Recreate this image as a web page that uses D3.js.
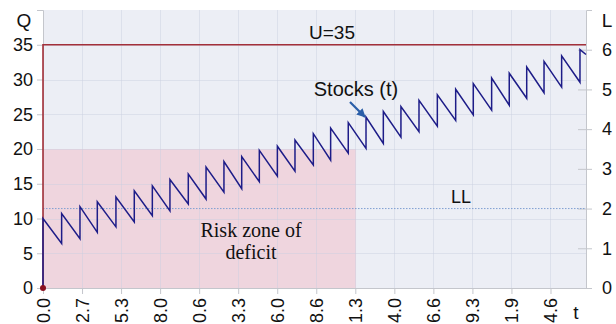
<!DOCTYPE html>
<html>
<head>
<meta charset="utf-8">
<script src="https://cdn.jsdelivr.net/npm/d3@7"></script>
<style>
  html, body { margin: 0; padding: 0; background: #ffffff; }
  svg { display: block; font-family: "Liberation Sans", Arial, sans-serif; }
</style>
</head>
<body>
<svg id="chart" width="616" height="324"></svg>
<script>
// Restocking moments (t) and stock level just after each delivery
const restockTimes = [0, 1.27, 2.52, 3.70, 4.97, 6.22, 7.45, 8.65, 9.90, 11.11,
  12.33, 13.54, 14.74, 15.97, 17.17, 18.42, 19.60, 20.80, 22.01, 23.19,
  24.39, 25.62, 26.87, 28.12, 29.32, 30.57, 31.77, 32.96, 34.14, 35.34, 36.59];
const peakLevels = [10.0, 10.7, 11.7, 12.4, 13.1, 14.0, 14.7, 15.6, 16.4, 17.4,
  18.2, 18.9, 19.8, 20.4, 21.3, 22.2, 23.0, 23.8, 24.6, 25.4,
  26.1, 27.0, 27.8, 28.6, 29.4, 30.2, 30.9, 31.8, 32.6, 33.4, 34.3];
// Stock level just before each delivery (first entry unused: start of period)
const troughLevels = [null, 6.4, 7.1, 8.0, 8.8, 9.5, 10.4, 11.1, 12.1, 12.8,
  13.8, 14.3, 15.3, 16.1, 16.8, 17.7, 18.4, 19.4, 20.1, 20.8,
  21.7, 22.5, 23.3, 24.1, 24.9, 25.6, 26.3, 27.3, 28.1, 28.9, 29.6];
const endPoint = { t: 37, q: 33.6 };

const upperLimit = 35;        // U
const lowerLimitL = 2;        // LL on the right axis
const riskZone = { tEnd: 21.33, q: 20 };

const xTickStep = 2.66;
const xTickLabels = ["0.0", "2.7", "5.3", "8.0", "0.6", "3.3", "6.0", "8.6",
  "1.3", "4.0", "6.6", "9.3", "1.9", "4.6"];
const qTicks = [0, 5, 10, 15, 20, 25, 30, 35];
const lTicks = [0, 1, 2, 3, 4, 5, 6];

// Build the stock path: vertical start, then linear consumption + instant restock
const stockPoints = [{ t: 0, q: 0 }, { t: 0, q: peakLevels[0] }];
for (let i = 1; i < restockTimes.length; i++) {
  stockPoints.push({ t: restockTimes[i], q: troughLevels[i] });
  stockPoints.push({ t: restockTimes[i], q: peakLevels[i] });
}
stockPoints.push(endPoint);

(function draw() {
  const svg = d3.select("#chart");
  const plotLeft = 43, plotRight = 586, plotTop = 10, plotBottom = 288;
  const sans = "'Liberation Sans', Arial, sans-serif";

  const x = d3.scaleLinear().domain([0, 37]).range([plotLeft, plotRight]);
  const yQ = d3.scaleLinear().domain([0, 40]).range([plotBottom, plotTop]);
  const yL = d3.scaleLinear().domain([0, 7]).range([plotBottom, plotTop]);

  // plot background
  svg.append("rect")
    .attr("x", plotLeft).attr("y", plotTop)
    .attr("width", plotRight - plotLeft).attr("height", plotBottom - plotTop)
    .attr("fill", "#eceef5");

  // risk zone
  svg.append("rect")
    .attr("x", x(0)).attr("y", yQ(riskZone.q))
    .attr("width", x(riskZone.tEnd) - x(0))
    .attr("height", yQ(0) - yQ(riskZone.q))
    .attr("fill", "#efd5de");

  // grid
  const xTickValues = xTickLabels.map((d, i) => i * xTickStep);
  const grid = svg.append("g").attr("stroke", "#c9cfdf").attr("stroke-opacity", 0.45).attr("stroke-width", 1);
  grid.selectAll("line.v").data(xTickValues.slice(1)).join("line")
    .attr("x1", d => Math.round(x(d)) + 0.5).attr("x2", d => Math.round(x(d)) + 0.5)
    .attr("y1", plotTop).attr("y2", plotBottom);
  grid.selectAll("line.h").data(qTicks.slice(1)).join("line")
    .attr("x1", plotLeft).attr("x2", plotRight)
    .attr("y1", d => Math.round(yQ(d)) + 0.5).attr("y2", d => Math.round(yQ(d)) + 0.5);

  // axes
  const axisColor = "#c4c6cc";
  function styleAxis(g) {
    g.select(".domain").attr("stroke", axisColor);
    g.selectAll(".tick line").attr("stroke", axisColor);
    g.selectAll(".tick text").attr("font-size", 18).attr("fill", "#111")
      .style("font-family", sans);
  }

  svg.append("g")
    .attr("transform", `translate(${plotLeft},0)`)
    .call(d3.axisLeft(yQ).tickValues(qTicks).tickFormat(d3.format("d")).tickSize(6).tickPadding(4))
    .call(styleAxis);

  svg.append("g")
    .attr("transform", `translate(${plotRight},0)`)
    .call(d3.axisRight(yL).tickValues(lTicks).tickFormat(d3.format("d")).tickSizeInner(6).tickSizeOuter(6).tickPadding(10))
    .call(g => g.selectAll(".tick line").attr("x1", -8).attr("x2", 6))
    .call(styleAxis);

  svg.append("g")
    .attr("transform", `translate(0,${plotBottom})`)
    .call(d3.axisBottom(x).tickValues(xTickValues).tickFormat((d, i) => xTickLabels[i]).tickSize(6).tickSizeOuter(0))
    .call(styleAxis)
    .call(g => g.selectAll(".tick text")
      .attr("transform", "rotate(-90)")
      .attr("text-anchor", "end")
      .attr("x", -10).attr("y", 0).attr("dy", "0.35em"));

  const label = (px, py, size, str) => svg.append("text")
    .attr("x", px).attr("y", py).attr("text-anchor", "middle")
    .attr("font-size", size).attr("fill", "#111").style("font-family", sans).text(str);

  // axis names
  label(24, 27, 19, "Q");
  label(607, 27, 19, "L");
  label(576, 319, 19, "t");

  // LL line
  svg.append("line")
    .attr("x1", plotLeft).attr("x2", plotRight)
    .attr("y1", yL(lowerLimitL)).attr("y2", yL(lowerLimitL))
    .attr("stroke", "#7f9fd2").attr("stroke-width", 1).attr("stroke-dasharray", "1.5,1.5");
  label(461, 203, 18, "LL");

  // U line (starts from the origin up the left edge)
  svg.append("path")
    .attr("d", d3.line().x(d => x(d[0])).y(d => yQ(d[1]))([[0, 0], [0, upperLimit], [37, upperLimit]]))
    .attr("fill", "none").attr("stroke", "#a3303a").attr("stroke-width", 1.6);
  label(332, 39, 19, "U=35");

  // stock line
  svg.append("path")
    .attr("d", d3.line().x(d => x(d.t)).y(d => yQ(d.q))(stockPoints))
    .attr("fill", "none").attr("stroke", "#1d1c88").attr("stroke-width", 1.5)
    .attr("stroke-linejoin", "miter");

  svg.append("circle").attr("cx", x(0)).attr("cy", yQ(0)).attr("r", 3).attr("fill", "#8a1020");

  // risk zone label
  const rz = svg.append("text").attr("text-anchor", "middle").attr("fill", "#111")
    .style("font-family", "'Liberation Serif', 'Times New Roman', serif").attr("font-size", 20);
  rz.append("tspan").attr("x", 251).attr("y", 237).text("Risk zone of");
  rz.append("tspan").attr("x", 251).attr("y", 259).text("deficit");

  // stocks label with arrow
  label(356, 96, 20, "Stocks (t)");
  svg.append("defs").append("marker")
    .attr("id", "arrowhead").attr("viewBox", "0 0 10 10")
    .attr("refX", 9).attr("refY", 5)
    .attr("markerWidth", 4).attr("markerHeight", 4)
    .attr("orient", "auto")
    .append("path").attr("d", "M0,0 L10,5 L0,10 Z").attr("fill", "#2a5ea8");
  svg.append("line")
    .attr("x1", 350).attr("y1", 102).attr("x2", 365).attr("y2", 117)
    .attr("stroke", "#2a5ea8").attr("stroke-width", 2.2)
    .attr("marker-end", "url(#arrowhead)");
})();
</script>
</body>
</html>
